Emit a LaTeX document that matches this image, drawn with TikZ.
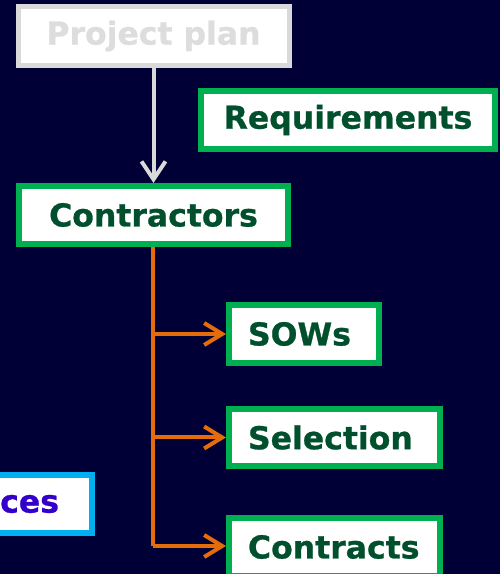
\documentclass[tikz,border=0pt]{standalone}
\usepackage{fontspec}
\setmainfont{DejaVu Sans}[BoldFeatures={FakeBold=0.8}]
\usetikzlibrary{arrows.meta}
\definecolor{bgnavy}{RGB}{0,0,55}
\definecolor{boxgreen}{RGB}{0,176,80}
\definecolor{txtgreen}{RGB}{0,80,45}
\definecolor{lgray}{RGB}{217,217,217}
\definecolor{tgray}{RGB}{221,221,221}
\definecolor{orangeln}{RGB}{228,108,10}
\definecolor{cyanbox}{RGB}{0,176,240}
\definecolor{txtblue}{RGB}{51,0,204}
\begin{document}
\begin{tikzpicture}[x=1pt,y=1pt,
  boxbase/.style={rectangle, fill=white, line width=6pt, inner sep=0pt,
    font=\fontsize{31.5}{36}\selectfont\bfseries},
  greenbox/.style={boxbase, draw=boxgreen, text=txtgreen},
  graybox/.style={boxbase, draw=lgray, line width=5pt, text=tgray},
  cyanb/.style={boxbase, draw=cyanbox, text=txtblue},
  grayarrow/.style={draw=lgray, line width=4pt, -{Straight Barb[length=18pt,width=24pt,line width=4pt]}},
  orangearrow/.style={draw=orangeln, line width=4pt, -{Straight Barb[length=18pt,width=22pt,line width=4pt]}},
  orangeline/.style={draw=orangeln, line width=4pt}]
\useasboundingbox (0,0) rectangle (500,574);
\fill[bgnavy] (0,0) rectangle (500,574);
\clip (0,0) rectangle (500,574);

\node[graybox, minimum width=271, minimum height=59] (plan) at (153.5,538) {Project plan};
\node[greenbox, minimum width=294, minimum height=58] (req) at (348,454) {Requirements};
\node[greenbox, minimum width=269, minimum height=58] (contr) at (153.5,359) {Contractors};
\node[greenbox, minimum width=150, minimum height=58] (sows) at (304,240) {\makebox[150pt][l]{\hspace{19pt}SOWs}};
\node[greenbox, minimum width=211, minimum height=57] (sel) at (334.5,136.5) {\makebox[211pt][l]{\hspace{19pt}Selection}};
\node[greenbox, minimum width=211, minimum height=58] (cts) at (334.5,27) {\makebox[211pt][l]{\hspace{19pt}Contracts}};
\node[cyanb, minimum width=150, minimum height=58] (res) at (17,70) {\makebox[150pt][r]{ces\hspace{33pt}}};

\coordinate (b1) at (153,240);
\coordinate (b2) at (153,136.5);
\coordinate (b3) at (153,28);

\draw[grayarrow] (plan.south -| contr.north) -- (contr.north);
\draw[orangeline] (contr.south -| b1) -- (b3);
\draw[orangearrow] (b1) -- (sows.west);
\draw[orangearrow] (b2) -- (sel.west);
\draw[orangearrow] (b3) -- (b3 -| cts.west);
\end{tikzpicture}
\end{document}
